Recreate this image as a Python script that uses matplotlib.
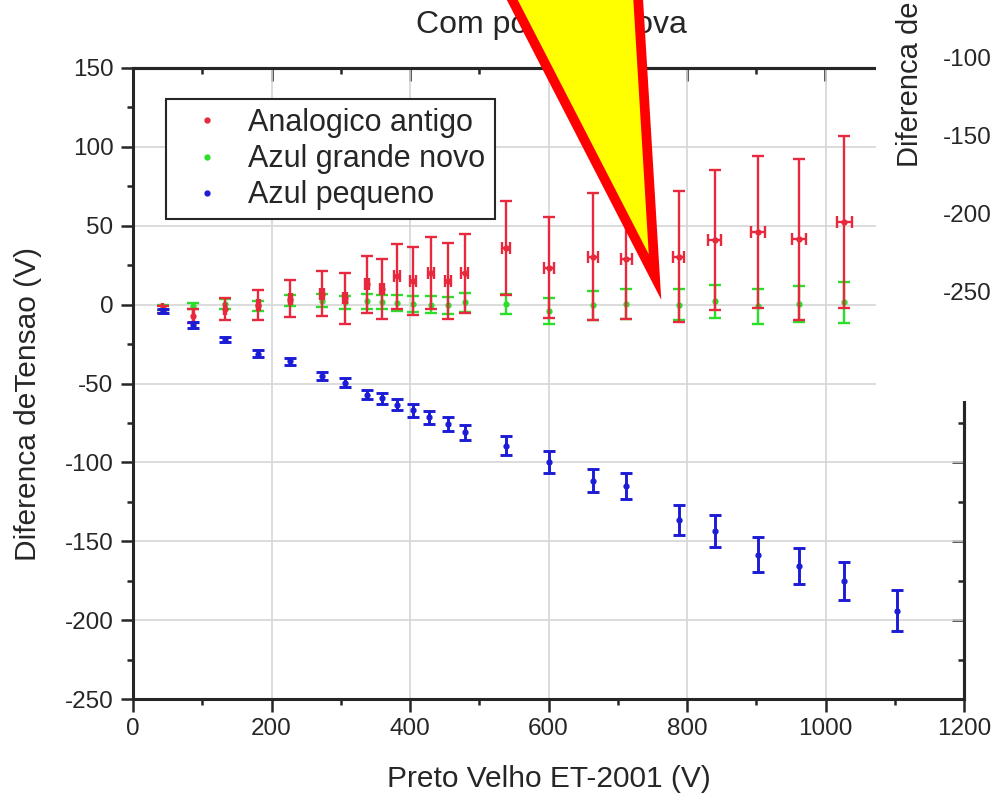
import matplotlib
matplotlib.use("Agg")
import matplotlib.pyplot as plt
from matplotlib.ticker import MultipleLocator
from matplotlib.patches import Rectangle, Polygon
from matplotlib.lines import Line2D

plt.rcParams['font.family'] = ['Liberation Sans', 'DejaVu Sans']
plt.rcParams['axes.unicode_minus'] = False

W, H = 992, 794
TXT = '#262626'
RED = '#e8283c'
GREEN = '#2adf2a'
BLUE = '#1c1cd6'

# ---- readings (V) ----
x_ref = [43, 87, 133, 181, 227, 273, 306, 338, 360, 381, 404, 430,
         455, 479, 539, 601, 664, 712, 788, 840, 903, 962, 1027]

analog = [-3, -7, -2.5, -0.5, 3.8, 7, 4, 13, 10, 18, 15, 20,
          15, 20, 36, 23.5, 30.5, 29, 30.5, 41, 46, 41.5, 52.5]
analog_err = [2, 4.5, 7, 9.5, 11.5, 14, 16, 18, 19, 20.5, 21.5, 23,
              24, 25, 30, 32, 40, 38, 41.5, 44.5, 48, 51, 54.5]
analog_xerr = [1, 1, 2, 2, 2, 3, 3, 3, 3, 4, 4, 4,
               4, 5, 6, 7, 7, 8, 8, 9, 10, 10, 11]

azul_grande = [-2, -1, 0.5, -1, 2.5, 2.5, 1.5, 2, 1.5, 1, 0.5, 0,
               -0.5, 1.5, 0.5, -4, -0.5, 0.5, 0, 2, -1, 0.5, 1.5]
azul_grande_err = [1.5, 2, 3, 3, 3.5, 4, 4, 4.5, 4.5, 5, 5, 5.5,
                   5.5, 6, 6.5, 8, 9, 9.5, 10, 10.5, 11, 11.5, 13]

x_pequeno = [43, 87, 133, 181, 227, 273, 306, 338, 360, 381, 404, 427,
             455, 479, 539, 601, 664, 712, 788, 840, 903, 962, 1027, 1103]
azul_pequeno = [-4, -13, -22, -31, -36, -45.5, -49.5, -57, -59.5, -63.5, -67, -71.5,
                -75.5, -81, -89.5, -100, -111.5, -115, -136.5, -143.5, -158.5, -165.5,
                -175, -194]
azul_pequeno_err = [1.5, 2, 1.5, 2, 2, 2.5, 3, 3, 3.5, 3.5, 4, 4,
                    4.5, 5, 6, 7, 7.5, 8.5, 9.5, 10, 11, 11.5, 12, 13]

labels = ['Analogico antigo', 'Azul grande novo', 'Azul pequeno']

fig = plt.figure(figsize=(W / 100, H / 100), dpi=100)
ax = fig.add_axes([133 / W, 1 - 699 / H, (964 - 133) / W, (699 - 68) / H])

eb = dict(fmt='o', ms=3.5, capsize=4)
ax.errorbar(x_ref, azul_grande, yerr=azul_grande_err, color=GREEN, ecolor=GREEN,
            elinewidth=1.7, capthick=1.7, zorder=3, **eb)
ax.errorbar(x_ref, analog, yerr=analog_err, xerr=analog_xerr, color=RED, ecolor=RED,
            elinewidth=1.7, capthick=1.7, zorder=4, **eb)
ax.errorbar(x_pequeno, azul_pequeno, yerr=azul_pequeno_err, color=BLUE, ecolor=BLUE,
            elinewidth=2.1, capthick=2.1, zorder=5, **eb)

ax.set_xlim(0, 1200)
ax.set_ylim(-250, 150)
ax.xaxis.set_major_locator(MultipleLocator(200))
ax.xaxis.set_minor_locator(MultipleLocator(100))
ax.yaxis.set_major_locator(MultipleLocator(50))
ax.yaxis.set_minor_locator(MultipleLocator(25))
ax.grid(True, which='major', color='#d6d6d6', lw=1.2)
ax.set_axisbelow(True)

ax.tick_params(which='both', direction='out', top=False, right=False,
               width=1.8, color=TXT, labelcolor=TXT)
ax.tick_params(which='major', length=9, labelsize=17.5, pad=5)
ax.tick_params(which='minor', length=4.5)
for s in ax.spines.values():
    s.set_linewidth(2.2)
    s.set_color(TXT)

# inward ticks on the top and right frame
top = ax.secondary_xaxis('top')
top.xaxis.set_major_locator(MultipleLocator(200))
top.xaxis.set_minor_locator(MultipleLocator(100))
top.tick_params(which='both', direction='in', labeltop=False, width=1.8, color=TXT)
top.tick_params(which='major', length=9)
top.tick_params(which='minor', length=4.5)
top.spines['top'].set_linewidth(2.2)
right = ax.secondary_yaxis('right')
right.yaxis.set_major_locator(MultipleLocator(50))
right.yaxis.set_minor_locator(MultipleLocator(25))
right.tick_params(which='both', direction='in', labelright=False, width=1.8, color=TXT)
right.tick_params(which='major', length=9)
right.tick_params(which='minor', length=4.5)
right.spines['right'].set_linewidth(2.2)

ax.set_xlabel('Preto Velho ET-2001 (V)', fontsize=21.5, color=TXT)
ax.set_ylabel('Diferenca deTensao (V)', fontsize=21.5, color=TXT)
ax.xaxis.set_label_coords(0.5, -0.104)
ax.yaxis.set_label_coords(-0.11, 0.4675)

handles = [Line2D([], [], ls='none', marker='o', ms=3.5, color=c)
           for c in (RED, GREEN, BLUE)]
leg = ax.legend(handles, labels, loc='upper left', bbox_to_anchor=(0.0397, 0.951),
                borderaxespad=0, fontsize=22, frameon=True, fancybox=False,
                edgecolor=TXT, framealpha=1, handlelength=2.1, handletextpad=0.3,
                labelspacing=0.2, borderpad=0.3)
leg.get_frame().set_linewidth(1.5)
leg.set_zorder(10)
for t in leg.get_texts():
    t.set_color(TXT)

fig.text(551.5 / W, 1 - 25 / H, 'Com ponteira nova', fontsize=23, color=TXT,
         ha='center', va='center')

# pasted strip of the neighbouring panel, top right
fig.add_artist(Rectangle((876 / W, 1 - 401 / H), (W - 876) / W, 401 / H,
                         transform=fig.transFigure, facecolor='white',
                         edgecolor='none', zorder=10))
fig.text(910 / W, 1 - 167 / H, 'Diferenca de', fontsize=21, color=TXT,
         rotation=90, rotation_mode='anchor', ha='left', va='center', zorder=11)
for lab, yp in zip(['-100', '-150', '-200', '-250'], [60, 138, 216, 294]):
    fig.text(943 / W, 1 - yp / H, lab, fontsize=17.5, color=TXT,
             ha='left', va='center', zorder=11)

# callout pointer
tri = [(502, -20), (637, -20), (655, 277)]
fig.add_artist(Polygon([(px / W, 1 - py / H) for px, py in tri], closed=True,
                       transform=fig.transFigure, facecolor='#ffff00',
                       edgecolor='#ff0000', lw=7, joinstyle='miter', zorder=12))

fig.savefig('out.png', dpi=100)
